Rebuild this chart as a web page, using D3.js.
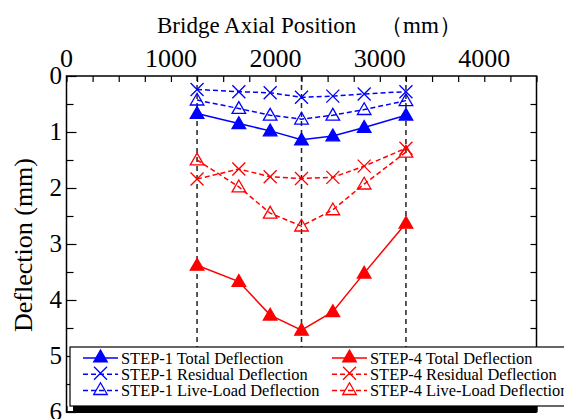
<!DOCTYPE html>
<html>
<head>
<meta charset="utf-8">
<script src="https://cdn.jsdelivr.net/npm/d3@7"></script>
<style>
body { margin: 0; background: #fff; }
</style>
</head>
<body>
<script>
const positions = [1250, 1650, 1950, 2250, 2550, 2850, 3250];
const step1Total = [0.67, 0.85, 0.98, 1.14, 1.07, 0.92, 0.70];
const step1Residual = [0.24, 0.28, 0.30, 0.38, 0.36, 0.32, 0.28];
const step1Live = [0.43, 0.58, 0.70, 0.77, 0.70, 0.60, 0.44];
const step4Total = [3.38, 3.67, 4.27, 4.54, 4.21, 3.52, 2.63];
const step4Residual = [1.84, 1.66, 1.80, 1.83, 1.81, 1.61, 1.29];
const step4Live = [1.50, 1.98, 2.45, 2.68, 2.39, 1.93, 1.36];
const guideLines = [1250, 2250, 3250];
const xTickLabels = [0, 1000, 2000, 3000, 4000];
const yTickLabels = [0, 1, 2, 3, 4, 5, 6];

const w = 564, h = 419;
const mLeft = 66.5, mRight = 536.5, mTop = 76, mBottom = 412;
const serif = "'Liberation Serif', 'Times New Roman', Times, serif";

const x = d3.scaleLinear().domain([0, 4500]).range([mLeft, mRight]);
const y = d3.scaleLinear().domain([0, 6]).range([mTop, mBottom]);

const svg = d3.select("body").append("svg")
  .attr("width", w).attr("height", h)
  .attr("font-family", serif);

const series = [
  {name: "STEP-1 Total Deflection", vals: step1Total, color: "#0000ff", dash: null, mark: "fill"},
  {name: "STEP-1 Residual Deflection", vals: step1Residual, color: "#0000ff", dash: "5,3", mark: "x"},
  {name: "STEP-1 Live-Load Deflection", vals: step1Live, color: "#0000ff", dash: "5,3", mark: "open"},
  {name: "STEP-4 Total Deflection", vals: step4Total, color: "#ff0000", dash: null, mark: "fill"},
  {name: "STEP-4 Residual Deflection", vals: step4Residual, color: "#ff0000", dash: "5,3", mark: "x"},
  {name: "STEP-4 Live-Load Deflection", vals: step4Live, color: "#ff0000", dash: "5,3", mark: "open"}
];

// vertical dashed guides
svg.selectAll("line.guide").data(guideLines).enter().append("line")
  .attr("x1", d => x(d)).attr("x2", d => x(d))
  .attr("y1", mTop).attr("y2", mBottom)
  .attr("stroke", "#222").attr("stroke-width", 1.5)
  .attr("stroke-dasharray", "5,4");

const tri = d3.symbol().type(d3.symbolTriangle).size(80);

function drawMarker(g, mark, color, cx, cy) {
  if (mark === "x") {
    g.append("path")
      .attr("d", `M${cx-6.5},${cy-6.5}L${cx+6.5},${cy+6.5}M${cx-6.5},${cy+6.5}L${cx+6.5},${cy-6.5}`)
      .attr("stroke", color).attr("stroke-width", 1.3).attr("fill", "none");
  } else {
    g.append("path").attr("d", tri())
      .attr("transform", `translate(${cx},${cy+1})`)
      .attr("fill", mark === "fill" ? color : "none")
      .attr("stroke", color).attr("stroke-width", 1.3);
  }
}

const line = d3.line().x(d => x(d[0])).y(d => y(d[1]));

series.forEach(s => {
  const pts = positions.map((p, i) => [p, s.vals[i]]);
  svg.append("path").datum(pts)
    .attr("d", line)
    .attr("fill", "none").attr("stroke", s.color).attr("stroke-width", 1.5)
    .attr("stroke-dasharray", s.dash);
  const g = svg.append("g");
  pts.forEach(p => drawMarker(g, s.mark, s.color, x(p[0]), y(p[1])));
});

// frame
svg.append("rect").attr("x", mLeft).attr("y", mTop)
  .attr("width", mRight - mLeft).attr("height", mBottom - mTop)
  .attr("fill", "none").attr("stroke", "#000").attr("stroke-width", 1.5);

// top axis
const xTop = d3.axisTop(x).tickValues(d3.range(0, 4501, 250)).tickSize(-6).tickFormat("");
svg.append("g").attr("transform", `translate(0,${mTop})`).call(xTop)
  .call(g => g.select(".domain").remove());
svg.selectAll("text.xl").data(xTickLabels).enter().append("text")
  .attr("x", d => x(d)).attr("y", 67)
  .attr("text-anchor", "middle").attr("font-size", 26).text(d => d);

// bottom axis ticks
const xBot = d3.axisBottom(x).tickValues(d3.range(0, 4501, 500)).tickSize(-6).tickFormat("");
svg.append("g").attr("transform", `translate(0,${mBottom})`).call(xBot)
  .call(g => g.select(".domain").remove());

// left axis
const yLeft = d3.axisLeft(y).tickValues(d3.range(0, 6.01, 0.5)).tickSize(-8).tickFormat("");
svg.append("g").attr("transform", `translate(${mLeft},0)`).call(yLeft)
  .call(g => g.select(".domain").remove())
  .selectAll(".tick line").attr("x2", d => Number.isInteger(d) ? 10 : 7);
svg.selectAll("text.yl").data(yTickLabels).enter().append("text")
  .attr("x", 62).attr("y", d => y(d) + 8)
  .attr("text-anchor", "end").attr("font-size", 25).text(d => d);

// right axis
const yRight = d3.axisRight(y).tickValues(d3.range(0.5, 5.6, 0.5)).tickSize(-6).tickFormat("");
svg.append("g").attr("transform", `translate(${mRight},0)`).call(yRight)
  .call(g => g.select(".domain").remove());

svg.selectAll(".tick line").attr("stroke", "#000").attr("stroke-width", 1.2);

// titles
const title = svg.append("text").attr("y", 33).attr("font-size", 23);
title.append("tspan").attr("x", 157).text("Bridge Axial Position");
title.append("tspan").attr("x", 380).text("\uff08mm\uff09");
svg.append("text").attr("transform", "translate(32,245) rotate(-90)")
  .attr("text-anchor", "middle").attr("font-size", 26).text("Deflection (mm)");

// legend
svg.append("rect").attr("x", 73).attr("y", 350).attr("width", 464).attr("height", 62).attr("fill", "#000");
svg.append("rect").attr("x", 70).attr("y", 347).attr("width", 520).attr("height", 59)
  .attr("fill", "#fff").attr("stroke", "#000").attr("stroke-width", 1.2);
svg.append("line").attr("x1", mLeft).attr("x2", mRight).attr("y1", mBottom).attr("y2", mBottom)
  .attr("stroke", "#000").attr("stroke-width", 2);

const legCols = [83, 332];
series.forEach((s, i) => {
  const col = Math.floor(i / 3), row = i % 3;
  const lx = legCols[col], ly = 358 + row * 16.3;
  svg.append("line").attr("x1", lx).attr("x2", lx + 35).attr("y1", ly).attr("y2", ly)
    .attr("stroke", s.color).attr("stroke-width", 1.5).attr("stroke-dasharray", s.dash);
  drawMarker(svg, s.mark, s.color, lx + 17.5, ly - 1);
  svg.append("text").attr("x", lx + 38).attr("y", ly + 5.5)
    .attr("font-size", 16.4).text(s.name);
});
</script>
</body>
</html>
